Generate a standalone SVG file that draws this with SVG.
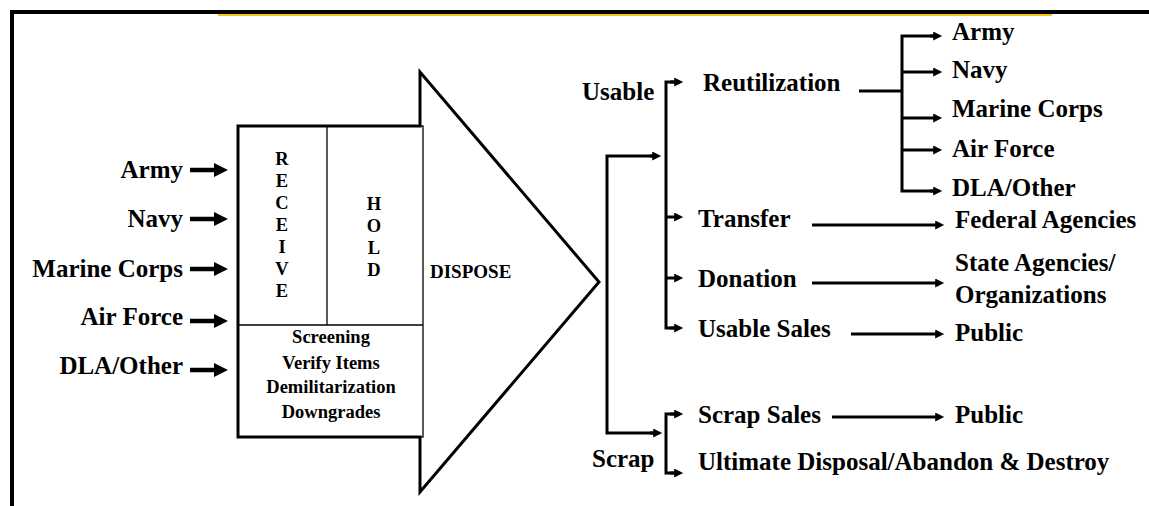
<svg xmlns="http://www.w3.org/2000/svg" width="1149" height="506" viewBox="0 0 1149 506">
<style>
text{font-family:"Liberation Serif","Times New Roman",serif;font-weight:bold;fill:#000}
.lbl{font-size:25px}
.sm{font-size:18.5px}
.ln{stroke:#000;stroke-width:3;fill:none}
.lnb{stroke:#000;stroke-width:4.5;fill:none}
</style>
<defs>
<marker id="ah" viewBox="0 0 10 10" markerWidth="10" markerHeight="9" refX="2" refY="5" markerUnits="userSpaceOnUse" orient="auto"><path d="M0,0 L10,5 L0,10 Z" fill="#000"/></marker>
<marker id="ahb" viewBox="0 0 14 14" markerWidth="14" markerHeight="14" refX="2" refY="7" markerUnits="userSpaceOnUse" orient="auto"><path d="M0,0 L14,7 L0,14 Z" fill="#000"/></marker>
</defs>
<rect width="1149" height="506" fill="#fff"/>
<g id="frame">
<rect x="218" y="14" width="834" height="2" fill="#f2c318"/>
<rect x="10" y="10" width="1139" height="4" fill="#000"/>
<rect x="10" y="10" width="4" height="496" fill="#000"/>
</g>
<g id="dispose-arrow">
<polygon points="238,126 420,126 420,72 599,282 420,492 420,437 238,437" fill="#fff" stroke="#000" stroke-width="3" stroke-linejoin="miter"/>
<rect x="238" y="126" width="185" height="311" fill="none" stroke="#000" stroke-width="1.3"/>
<line x1="238" y1="325" x2="423" y2="325" stroke="#000" stroke-width="1.3"/>
<line x1="327" y1="126" x2="327" y2="325" stroke="#000" stroke-width="1.3"/>
<text x="430" y="278" style="font-size:19px">DISPOSE</text>
</g>
<g id="receive" class="sm" text-anchor="middle">
<text x="282" y="165">R</text><text x="282" y="187">E</text><text x="282" y="209">C</text><text x="282" y="231">E</text><text x="282" y="253">I</text><text x="282" y="275">V</text><text x="282" y="297">E</text>
</g>
<g id="hold" class="sm" text-anchor="middle">
<text x="374" y="210">H</text><text x="374" y="232">O</text><text x="374" y="254">L</text><text x="374" y="276">D</text>
</g>
<g id="tasks" class="sm" text-anchor="middle">
<text x="331" y="343">Screening</text>
<text x="331" y="369">Verify Items</text>
<text x="331" y="393">Demilitarization</text>
<text x="331" y="418">Downgrades</text>
</g>
<g id="inputs" class="lbl" text-anchor="end">
<text x="183" y="178">Army</text>
<text x="183" y="227">Navy</text>
<text x="183" y="277">Marine Corps</text>
<text x="183" y="325">Air Force</text>
<text x="183" y="374">DLA/Other</text>
</g>
<g id="usable-label" class="lbl"><text x="582" y="100">Usable</text></g>
<g id="scrap-label" class="lbl"><text x="592" y="467">Scrap</text></g>
<g id="reutilization" class="lbl"><text x="703" y="91">Reutilization</text></g>
<g id="transfer" class="lbl"><text x="698" y="227">Transfer</text></g>
<g id="donation" class="lbl"><text x="698" y="287">Donation</text></g>
<g id="usable-sales" class="lbl"><text x="698" y="337">Usable Sales</text></g>
<g id="scrap-sales" class="lbl"><text x="698" y="423">Scrap Sales</text></g>
<g id="ultimate" class="lbl"><text x="698" y="470">Ultimate Disposal/Abandon &amp; Destroy</text></g>
<g id="reut-targets" class="lbl">
<text x="952" y="40">Army</text>
<text x="952" y="78">Navy</text>
<text x="952" y="117">Marine Corps</text>
<text x="952" y="157">Air Force</text>
<text x="952" y="196">DLA/Other</text>
</g>
<g id="federal" class="lbl"><text x="955" y="228">Federal Agencies</text></g>
<g id="state" class="lbl"><text x="955" y="271">State Agencies/</text><text x="955" y="303">Organizations</text></g>
<g id="public1" class="lbl"><text x="955" y="341">Public</text></g>
<g id="public2" class="lbl"><text x="955" y="423">Public</text></g>
<g id="connectors">
<line class="lnb" x1="190" y1="170" x2="216" y2="170" marker-end="url(#ahb)"/>
<line class="lnb" x1="190" y1="219" x2="216" y2="219" marker-end="url(#ahb)"/>
<line class="lnb" x1="190" y1="269" x2="216" y2="269" marker-end="url(#ahb)"/>
<line class="lnb" x1="190" y1="321" x2="216" y2="321" marker-end="url(#ahb)"/>
<line class="lnb" x1="190" y1="370" x2="216" y2="370" marker-end="url(#ahb)"/>
<path class="ln" d="M655,156 H607 V433 H655"/>
<line class="ln" x1="650" y1="156" x2="654" y2="156" marker-end="url(#ah)"/>
<line class="ln" x1="650" y1="433" x2="655" y2="433" marker-end="url(#ah)"/>
<path class="ln" d="M676,82 H666 V328 H676"/>
<line class="ln" x1="670" y1="82" x2="676" y2="82" marker-end="url(#ah)"/>
<line class="ln" x1="666" y1="217" x2="676" y2="217" marker-end="url(#ah)"/>
<line class="ln" x1="666" y1="278" x2="676" y2="278" marker-end="url(#ah)"/>
<line class="ln" x1="670" y1="328" x2="676" y2="328" marker-end="url(#ah)"/>
<path class="ln" d="M676,414 H666 V473 H676"/>
<line class="ln" x1="670" y1="414" x2="676" y2="414" marker-end="url(#ah)"/>
<line class="ln" x1="670" y1="473" x2="676" y2="473" marker-end="url(#ah)"/>
<line class="ln" x1="859" y1="91" x2="902" y2="91"/>
<path class="ln" d="M935,36 H902 V191 H935"/>
<line class="ln" x1="930" y1="36" x2="935" y2="36" marker-end="url(#ah)"/>
<line class="ln" x1="902" y1="72" x2="935" y2="72" marker-end="url(#ah)"/>
<line class="ln" x1="902" y1="118" x2="935" y2="118" marker-end="url(#ah)"/>
<line class="ln" x1="902" y1="150" x2="935" y2="150" marker-end="url(#ah)"/>
<line class="ln" x1="930" y1="191" x2="935" y2="191" marker-end="url(#ah)"/>
<line class="ln" x1="812" y1="225" x2="937" y2="225" marker-end="url(#ah)"/>
<line class="ln" x1="812" y1="283" x2="937" y2="283" marker-end="url(#ah)"/>
<line class="ln" x1="851" y1="334" x2="937" y2="334" marker-end="url(#ah)"/>
<line class="ln" x1="832" y1="417" x2="937" y2="417" marker-end="url(#ah)"/>
</g>
</svg>
